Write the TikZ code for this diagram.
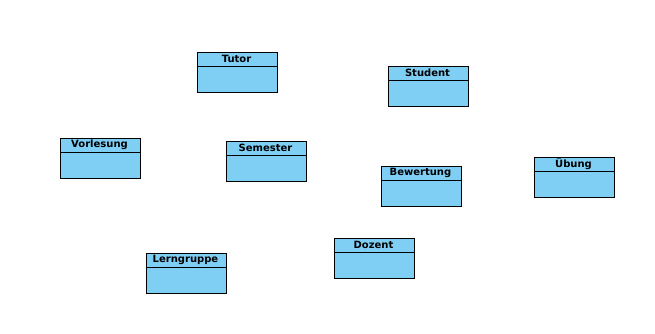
\documentclass[tikz,border=0pt]{standalone}
\usepackage{fontspec}
\setmainfont{DejaVu Sans}
\definecolor{boxfill}{HTML}{7FCFF5}
\begin{document}
\begin{tikzpicture}[x=1pt,y=-1pt,
  cls/.style={draw=black,fill=boxfill,line width=1pt,minimum width=80pt,minimum height=40pt,inner sep=0pt,anchor=north west}]
\useasboundingbox (0,0) rectangle (655,333);
\newcommand{\umlclass}[4]{%
  \node[cls] (#1) at (#2,#3) {};
  \draw[line width=1pt] ([yshift=-14pt]#1.north west) -- ([yshift=-14pt]#1.north east);
  \node[font=\fontsize{10}{12}\selectfont\bfseries,anchor=center,inner sep=0pt] (#1t) at ([yshift=-7pt,xshift=-1pt]#1.north) {#4};
}
\umlclass{tutor}{197}{52}{Tutor}
\umlclass{student}{388}{66}{Student}
\umlclass{vorlesung}{60}{138}{Vorlesung}
\umlclass{semester}{226}{141}{Semester}
\umlclass{bewertung}{381}{166}{Bewertung}
\umlclass{uebung}{534}{157}{Übung}
\umlclass{lerngruppe}{146}{253}{Lerngruppe}
\umlclass{dozent}{334}{238}{Dozent}
\end{tikzpicture}
\end{document}
